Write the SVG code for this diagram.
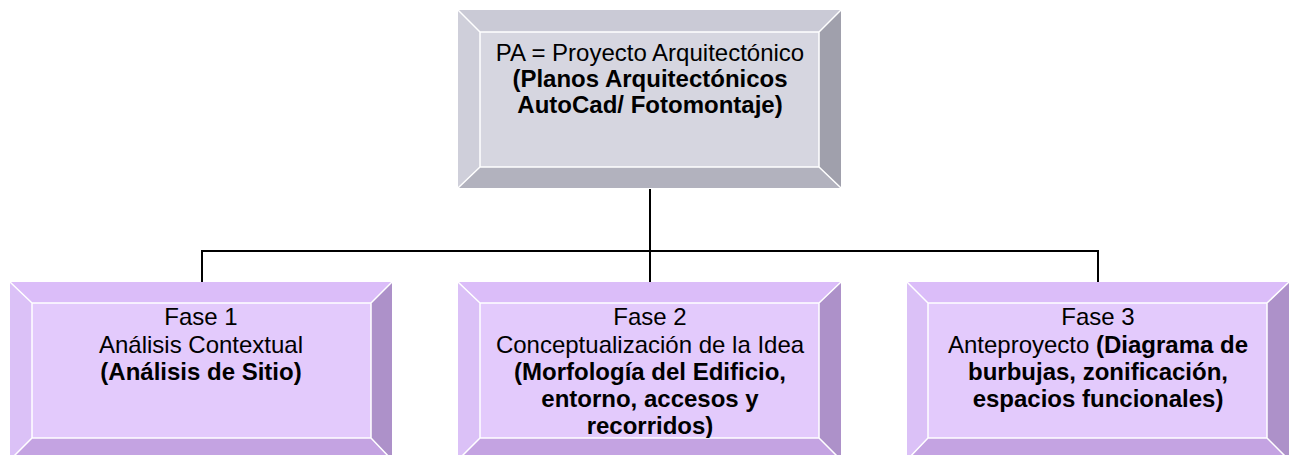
<svg xmlns="http://www.w3.org/2000/svg" width="1291" height="455" viewBox="0 0 1291 455">
<style>
.g .t{fill:#CACAD6}.g .l{fill:#CFCFDA}.g .f{fill:#D6D6E0}.g .r{fill:#A0A0AC}.g .b{fill:#B2B2BE}
.p .t{fill:#DBBDF9}.p .l{fill:#DBC1F7}.p .f{fill:#E3CAFC}.p .r{fill:#AD91C9}.p .b{fill:#C4A3E2}
.w{fill:none;stroke:#FFFFFF;stroke-width:1.5}
text{font-family:"Liberation Sans",Arial,sans-serif;font-size:24px;fill:#000;text-anchor:middle}
.bd{font-weight:bold}
.c{fill:none;stroke:#000;stroke-width:2}
</style>
<defs>
<clipPath id="clip2"><rect x="480" y="303" width="339" height="135"/></clipPath>
</defs>
<g id="connectors">
<path class="c" d="M650,189 V251 M202,251 H1098 M202,250 V282 M650,251 V282 M1098,250 V282"/>
</g>
<g id="node-pa" class="g">
<polygon class="t" points="458,10 841,10 819,32 480,32"/>
<polygon class="l" points="458,10 480,32 480,167 458,188"/>
<polygon class="r" points="841,10 841,188 819,167 819,32"/>
<polygon class="b" points="458,188 480,167 819,167 841,188"/>
<rect class="f" x="480" y="32" width="339" height="135"/>
<path class="w" d="M480,32 H819 V167 H480 Z M458,10 L480,32 M841,10 L819,32 M841,188 L819,167 M458,188 L480,167"/>
<text x="650" y="61">PA = Proyecto Arquitectónico</text>
<text class="bd" x="650" y="87">(Planos Arquitectónicos</text>
<text class="bd" x="650" y="113">AutoCad/ Fotomontaje)</text>
</g>
<g id="node-fase1" class="p">
<polygon class="t" points="10,282 392,282 371,303 32,303"/>
<polygon class="l" points="10,282 32,303 32,438 10,460"/>
<polygon class="r" points="392,282 392,460 371,438 371,303"/>
<polygon class="b" points="10,460 32,438 371,438 392,460"/>
<rect class="f" x="32" y="303" width="339" height="135"/>
<path class="w" d="M32,303 H371 V438 H32 Z M10,282 L32,303 M392,282 L371,303 M392,460 L371,438 M10,460 L32,438"/>
<text x="201" y="325">Fase 1</text>
<text x="201" y="353">Análisis Contextual</text>
<text class="bd" x="201" y="380">(Análisis de Sitio)</text>
</g>
<g id="node-fase2" class="p">
<polygon class="t" points="458,282 841,282 819,303 480,303"/>
<polygon class="l" points="458,282 480,303 480,438 458,460"/>
<polygon class="r" points="841,282 841,460 819,438 819,303"/>
<polygon class="b" points="458,460 480,438 819,438 841,460"/>
<rect class="f" x="480" y="303" width="339" height="135"/>
<path class="w" d="M480,303 H819 V438 H480 Z M458,282 L480,303 M841,282 L819,303 M841,460 L819,438 M458,460 L480,438"/>
<g clip-path="url(#clip2)">
<text x="650" y="325">Fase 2</text>
<text x="650" y="353">Conceptualización de la Idea</text>
<text class="bd" x="650" y="380">(Morfología del Edificio,</text>
<text class="bd" x="650" y="407">entorno, accesos y</text>
<text class="bd" x="650" y="434">recorridos)</text>
</g>
</g>
<g id="node-fase3" class="p">
<polygon class="t" points="907,282 1289,282 1267,303 928,303"/>
<polygon class="l" points="907,282 928,303 928,438 907,460"/>
<polygon class="r" points="1289,282 1289,460 1267,438 1267,303"/>
<polygon class="b" points="907,460 928,438 1267,438 1289,460"/>
<rect class="f" x="928" y="303" width="339" height="135"/>
<path class="w" d="M928,303 H1267 V438 H928 Z M907,282 L928,303 M1289,282 L1267,303 M1289,460 L1267,438 M907,460 L928,438"/>
<text x="1098" y="325">Fase 3</text>
<text x="1098" y="353">Anteproyecto <tspan class="bd">(Diagrama de</tspan></text>
<text class="bd" x="1098" y="380">burbujas, zonificación,</text>
<text class="bd" x="1098" y="407">espacios funcionales)</text>
</g>
</svg>
